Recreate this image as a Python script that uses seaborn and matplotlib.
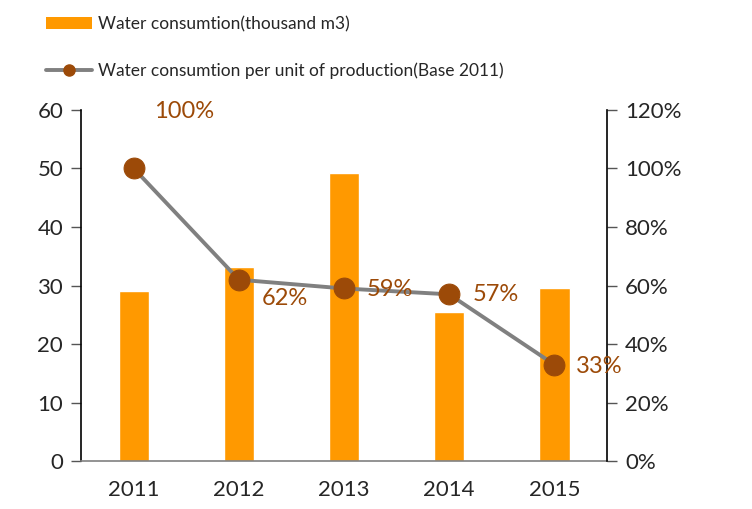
import numpy as np
import pandas as pd
import matplotlib.pyplot as plt
import matplotlib.ticker as mtick
from matplotlib.patches import Patch
from matplotlib.lines import Line2D
import seaborn as sns

years = ['2011', '2012', '2013', '2014', '2015']
water = [29.0, 33.2, 49.3, 25.5, 29.6]
ratio = [100, 62, 59, 57, 33]
ratio_labels = ['100%', '62%', '59%', '57%', '33%']

bar_color = '#FF9900'
line_color = '#808080'
dot_color = '#9C4A08'

sns.set_style('white')
plt.rcParams['font.family'] = ['Lato', 'DejaVu Sans']

fig = plt.figure(figsize=(7.52, 5.09), dpi=100)
ax = fig.add_axes([0.108, 0.094, 0.699, 0.69])

df = pd.DataFrame({'year': years, 'water': water, 'ratio': ratio})
sns.barplot(data=df, x='year', y='water', color=bar_color, width=0.29,
            saturation=1, ax=ax)
ax.set_ylim(0, 60)
ax.set_yticks(range(0, 61, 10))
ax.set_xlim(-0.5, 4.5)
ax.set_xlabel('')
ax.set_ylabel('')

ax2 = ax.twinx()
sns.lineplot(x=np.arange(len(years)), y=df['ratio'], color=line_color, linewidth=2.8,
             marker='o', markersize=15, markerfacecolor=dot_color,
             markeredgecolor=dot_color, ax=ax2)
ax2.set_ylim(0, 120)
ax2.set_yticks(range(0, 121, 20))
ax2.yaxis.set_major_formatter(mtick.PercentFormatter(decimals=0))
ax2.set_ylabel('')

# label positions relative to each point (x in categories, y in %)
offsets = [(0.48, 19.6), (0.44, -6.3), (0.44, -0.5), (0.44, -0.2), (0.43, -0.5)]
for i, (lab, (dx, dy)) in enumerate(zip(ratio_labels, offsets)):
    ax2.text(i + dx, ratio[i] + dy, lab, color=dot_color, fontsize=17,
             ha='center', va='center')

for a in (ax, ax2):
    for s in a.spines.values():
        s.set_visible(False)
ax.spines['left'].set_visible(True)
ax.spines['left'].set_color('black')
ax.spines['left'].set_linewidth(1.2)
ax2.spines['right'].set_visible(True)
ax2.spines['right'].set_color('black')
ax2.spines['right'].set_linewidth(1.2)
ax.spines['bottom'].set_visible(True)
ax.spines['bottom'].set_color('#808080')
ax.spines['bottom'].set_linewidth(1.2)

ax.tick_params(axis='y', left=True, length=7, width=1, color='#555555',
               labelsize=16, pad=6)
ax2.tick_params(axis='y', right=True, length=7, width=1, color='#555555',
                labelsize=16, pad=6)
ax.tick_params(axis='x', bottom=False, labelsize=16, pad=10)

handles = [
    Patch(facecolor=bar_color, edgecolor='none'),
    Line2D([0], [0], color=line_color, linewidth=2.8, marker='o', markersize=8,
           markerfacecolor=dot_color, markeredgecolor=dot_color),
]
labels = ['Water consumtion(thousand m3)',
          'Water consumtion per unit of production(Base 2011)']
fig.legend(handles, labels, loc='upper left', bbox_to_anchor=(0.041, 0.999),
           frameon=False, fontsize=12.5, handlelength=2.6, handleheight=0.7,
           labelspacing=1.75, handletextpad=0.35)

fig.savefig('out.png', dpi=100)
